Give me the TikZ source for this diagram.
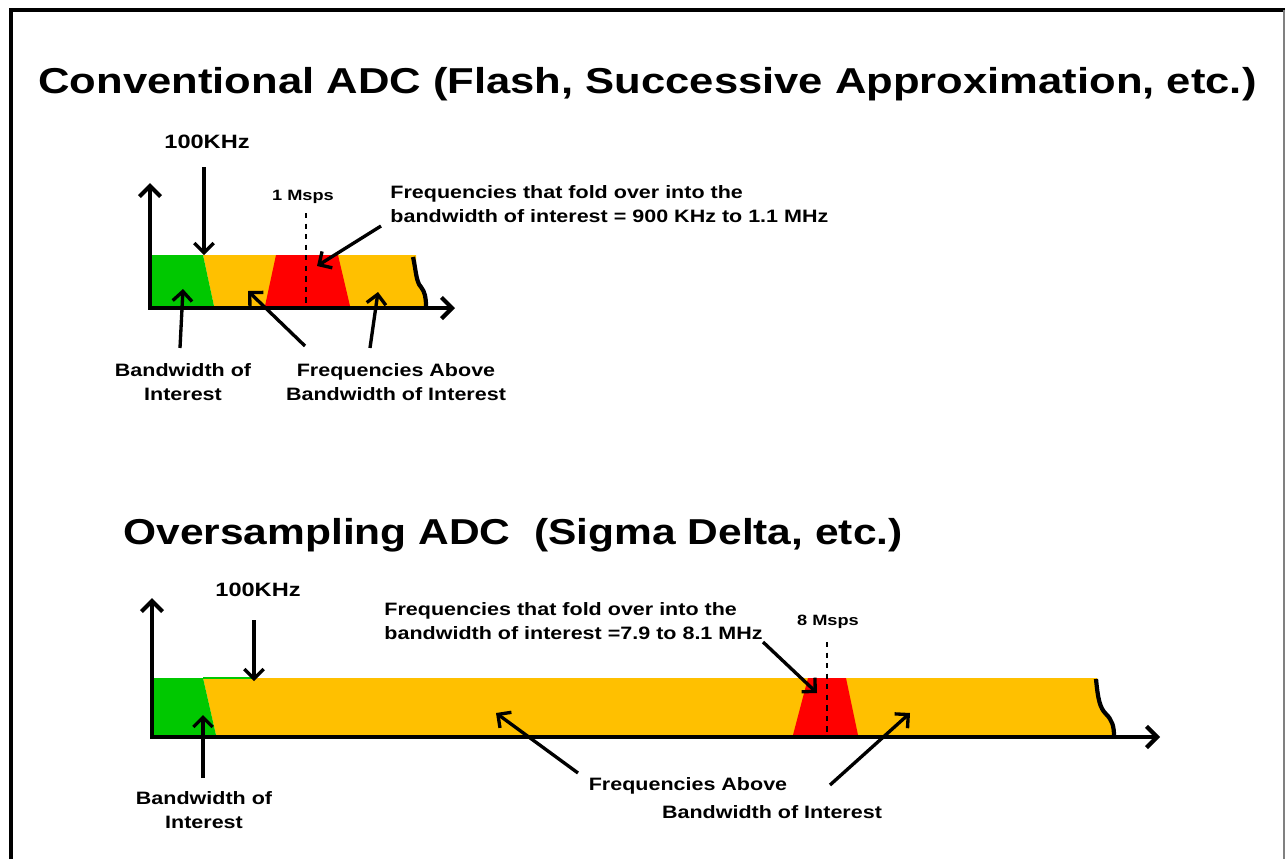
\documentclass[tikz,border=0pt]{standalone}
\usepackage{fontspec}
\setmainfont{Liberation Sans}
\usetikzlibrary{arrows.meta}
\begin{document}
\begin{tikzpicture}[x=0.02cm,y=-0.02cm,
		axis/.style={line width=2.4pt,{Straight Barb[length=6pt,width=12pt]}-{Straight Barb[length=6pt,width=12pt]}},
		pointer/.style={line width=1.9pt,-{Straight Barb[length=5.5pt,width=11pt]}},
		bandedge/.style={line width=2.4pt},
		title/.style={font=\fontsize{20.5}{24}\selectfont\bfseries,xscale=1.21,anchor=west,inner sep=0pt},
		lbl/.style={font=\fontsize{10.2}{13.8}\selectfont\bfseries,xscale=1.2,align=center,inner sep=0pt},
		khz/.style={font=\fontsize{11}{13}\selectfont\bfseries,xscale=1.22,inner sep=0pt},
		msps/.style={font=\fontsize{8.5}{10}\selectfont\bfseries,xscale=1.22,inner sep=0pt}]
			\definecolor{bwgreen}{RGB}{0, 200, 0}
			\definecolor{bworange}{RGB}{255, 192, 0}
			\definecolor{bwred}{RGB}{255, 0, 0}
			\useasboundingbox (0,0) rectangle (1285,859);
			\draw[line width=2.3pt] (11,859) -- (11,10) -- (1285,10);
			\draw[gray, line width=0.6pt] (1284,10) -- (1284,859);
			\node[title] (conv) at (38,84) {Conventional ADC (Flash, Successive Approximation, etc.)};
			\fill[bworange] (203,255) -- (416,255) .. controls (416,270) and (416,282) .. (421,287) .. controls (425,292) and (426,298) .. (426,306) -- (214,306) -- cycle;
			\fill[bwgreen] (152,255) -- (203,255) -- (214,306) -- (152,306) -- cycle;
			\fill[bwred] (276,255) -- (338,255) -- (350,306) -- (265,306) -- cycle;
			\draw[bandedge] (413,257) .. controls (416,270) and (416,282) .. (421,287) .. controls (425,292) and (426,298) .. (426,306);
			\draw[dashed, line width=1pt] (306,213) -- (306,306);
			\draw[axis] (150,183) -- (150,308) -- (455,308);
			\node[khz] (convkhz) at (207,142) {100KHz};
			\node[msps] (convmsps) at (303,197) {1 Msps};
			\node[lbl, anchor=west, align=left] (convfold) at (390,204) {Frequencies that fold over into the\\bandwidth of interest = 900 KHz to 1.1 MHz};
			\node[lbl] (convbw) at (183,382) {Bandwidth of\\Interest};
			\node[lbl] (convabove) at (396,382) {Frequencies Above\\Bandwidth of Interest};
			\coordinate (convkhztop) at (204,167);
			\coordinate (convkhztip) at (204,255);
			\coordinate (convfoldtip) at (317,266);
			\coordinate (convbwtip) at (183,289);
			\coordinate (convabovetipa) at (248,291);
			\coordinate (convabovetipb) at (378,292);
			\draw[pointer] (convkhztop) -- (convkhztip);
			\draw[pointer] (381,226) -- (convfoldtip);
			\draw[pointer] (180,348) -- (convbwtip);
			\draw[pointer] (305,346) -- (convabovetipa);
			\draw[pointer] (370,348) -- (convabovetipb);
			\node[title, xscale=0.975] (over) at (123,535) {Oversampling ADC\ \ (Sigma Delta, etc.)};
			\fill[bworange] (203,678) -- (1097,678) .. controls (1098,700) and (1100,708) .. (1106,714) .. controls (1112,720) and (1114,726) .. (1114,735) -- (216,735) -- cycle;
			\fill[bwgreen] (154,678) -- (203,678) -- (216,735) -- (154,735) -- cycle;
			\draw[bwgreen, line width=0.6pt] (203,678) -- (254,678);
			\fill[bwred] (808,678) -- (846,678) -- (858,735) -- (793,735) -- cycle;
			\draw[bandedge] (1096,679) .. controls (1098,700) and (1100,708) .. (1106,714) .. controls (1112,720) and (1114,726) .. (1114,736);
			\draw[dashed, line width=1pt] (827,642) -- (827,735);
			\draw[axis] (152,598) -- (152,737) -- (1160,737);
			\node[khz] (overkhz) at (258,590) {100KHz};
			\node[msps] (overmsps) at (828,622) {8 Msps};
			\node[lbl, anchor=west, align=left] (overfold) at (384,621) {Frequencies that fold over into the\\bandwidth of interest =7.9 to 8.1 MHz};
			\node[lbl] (overbw) at (204,810) {Bandwidth of\\Interest};
			\node[lbl] (overabovea) at (688,786) {Frequencies Above};
			\node[lbl] (overaboveb) at (772,812) {Bandwidth of Interest};
			\coordinate (overkhztop) at (254,620);
			\coordinate (overkhztip) at (254,681);
			\coordinate (overfoldtip) at (817,693);
			\coordinate (overbwtip) at (203,715);
			\coordinate (overabovetipa) at (496,713);
			\coordinate (overabovetipb) at (910,713);
			\draw[pointer] (overkhztop) -- (overkhztip);
			\draw[pointer] (763,642) -- (overfoldtip);
			\draw[pointer] (203,778) -- (overbwtip);
			\draw[pointer] (578,773) -- (overabovetipa);
			\draw[pointer] (830,785) -- (overabovetipb);
		\end{tikzpicture}
\end{document}
